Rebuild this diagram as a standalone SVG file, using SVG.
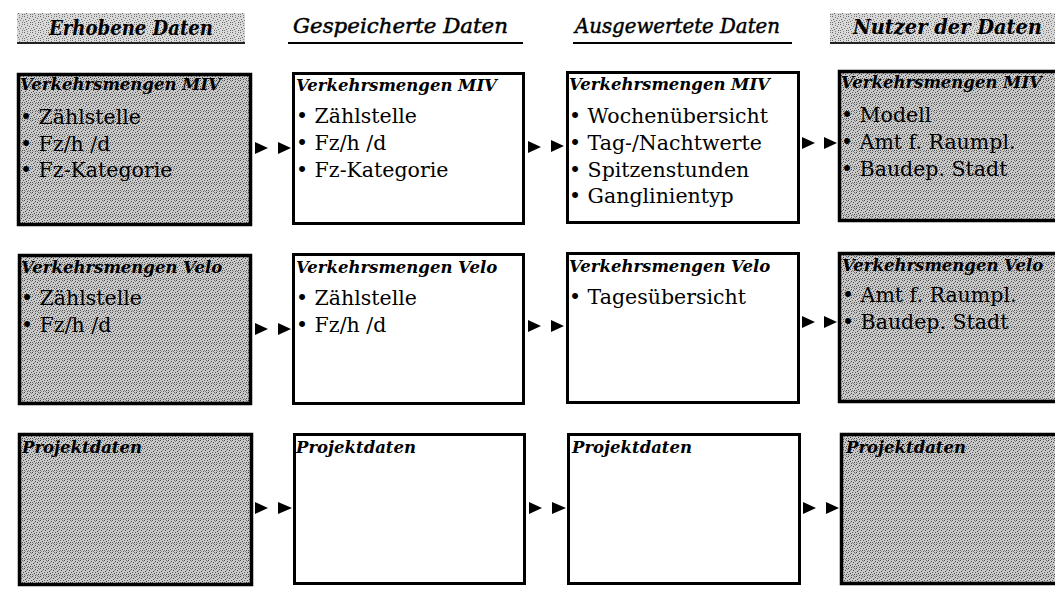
<svg xmlns="http://www.w3.org/2000/svg" width="1055" height="590" viewBox="0 0 1055 590">
<defs>
<pattern id="stipBox" width="8" height="8" patternUnits="userSpaceOnUse">
<rect width="8" height="8" fill="#cacaca"/>
<rect x="0" y="0" width="1" height="1" fill="#444"/>
<rect x="3" y="1" width="1" height="1" fill="#444"/>
<rect x="6" y="0" width="1" height="1" fill="#666"/>
<rect x="1" y="3" width="1" height="1" fill="#444"/>
<rect x="5" y="2" width="1" height="1" fill="#444"/>
<rect x="7" y="4" width="1" height="1" fill="#555"/>
<rect x="2" y="5" width="1" height="1" fill="#444"/>
<rect x="4" y="4" width="1" height="1" fill="#666"/>
<rect x="0" y="6" width="1" height="1" fill="#555"/>
<rect x="6" y="6" width="1" height="1" fill="#444"/>
<rect x="3" y="7" width="1" height="1" fill="#555"/>
<rect x="5" y="7" width="1" height="1" fill="#888"/>
<rect x="2" y="2" width="1" height="1" fill="#888"/>
<rect x="7" y="1" width="1" height="1" fill="#888"/>
<rect x="4" y="6" width="1" height="1" fill="#888"/>
<rect x="1" y="7" width="1" height="1" fill="#999"/>
</pattern>
<pattern id="stipHead" width="8" height="8" patternUnits="userSpaceOnUse">
<rect width="8" height="8" fill="#d9d9d9"/>
<rect x="0" y="0" width="1" height="1" fill="#666"/>
<rect x="3" y="1" width="1" height="1" fill="#777"/>
<rect x="6" y="0" width="1" height="1" fill="#888"/>
<rect x="1" y="3" width="1" height="1" fill="#666"/>
<rect x="5" y="2" width="1" height="1" fill="#777"/>
<rect x="7" y="4" width="1" height="1" fill="#888"/>
<rect x="2" y="5" width="1" height="1" fill="#666"/>
<rect x="4" y="4" width="1" height="1" fill="#888"/>
<rect x="0" y="6" width="1" height="1" fill="#777"/>
<rect x="6" y="6" width="1" height="1" fill="#666"/>
<rect x="3" y="7" width="1" height="1" fill="#888"/>
</pattern>
</defs>
<style>
.box{stroke:#000;stroke-width:3}
.white{fill:#fff}
.shade{fill:url(#stipBox);stroke-width:3.5}
.title{font-family:"DejaVu Serif",serif;font-weight:bold;font-style:italic;font-size:16.5px;fill:#000}
.item{font-family:"DejaVu Serif",serif;font-size:20.5px;fill:#000}
.hb{font-family:"DejaVu Serif",serif;font-weight:bold;font-style:italic;font-size:20px;fill:#000}
.hi{font-family:"DejaVu Serif",serif;font-style:italic;font-size:21px;fill:#000;stroke:#000;stroke-width:0.5}
.arr{fill:#000}
</style>
<rect width="1055" height="590" fill="#fff"/>

<g id="header-erhoben">
<rect x="17" y="13" width="228" height="30" fill="url(#stipHead)"/>
<rect x="17" y="42" width="228" height="2" fill="#222"/>
<text class="hb" x="49" y="35" textLength="164" lengthAdjust="spacingAndGlyphs">Erhobene Daten</text>
</g>
<g id="header-gespeichert">
<rect x="288" y="42" width="235" height="2" fill="#000"/>
<text class="hi" x="293" y="33" textLength="215" lengthAdjust="spacingAndGlyphs">Gespeicherte Daten</text>
</g>
<g id="header-ausgewertet">
<rect x="573" y="42" width="219" height="2" fill="#000"/>
<text class="hi" x="575" y="33" textLength="205" lengthAdjust="spacingAndGlyphs">Ausgewertete Daten</text>
</g>
<g id="header-nutzer">
<rect x="830" y="13" width="230" height="30" fill="url(#stipHead)"/>
<rect x="830" y="42" width="230" height="2" fill="#222"/>
<text class="hb" x="853" y="34" textLength="189" lengthAdjust="spacingAndGlyphs">Nutzer der Daten</text>
</g>

<g id="n11">
<rect class="box shade" x="18.5" y="74.5" width="232" height="150"/>
<text class="title" x="20" y="90">Verkehrsmengen MIV</text>
<text class="item" x="20" y="124">• Zählstelle</text>
<text class="item" x="20" y="151">• Fz/h /d</text>
<text class="item" x="20" y="177">• Fz-Kategorie</text>
</g>
<g id="n12">
<rect class="box white" x="293.5" y="73.5" width="230" height="150"/>
<text class="title" x="296" y="91">Verkehrsmengen MIV</text>
<text class="item" x="296" y="123">• Zählstelle</text>
<text class="item" x="296" y="150">• Fz/h /d</text>
<text class="item" x="296" y="177">• Fz-Kategorie</text>
</g>
<g id="n13">
<rect class="box white" x="567.5" y="72.5" width="231" height="150"/>
<text class="title" x="569" y="90">Verkehrsmengen MIV</text>
<text class="item" x="569" y="123">• Wochenübersicht</text>
<text class="item" x="569" y="150">• Tag-/Nachtwerte</text>
<text class="item" x="569" y="177">• Spitzenstunden</text>
<text class="item" x="569" y="203">• Ganglinientyp</text>
</g>
<g id="n14">
<rect class="box shade" x="839.5" y="71.5" width="222" height="149"/>
<text class="title" x="841" y="88">Verkehrsmengen MIV</text>
<text class="item" x="841" y="122">• Modell</text>
<text class="item" x="841" y="149">• Amt f. Raumpl.</text>
<text class="item" x="841" y="176">• Baudep. Stadt</text>
</g>

<g id="n21">
<rect class="box shade" x="19.5" y="255.5" width="231" height="148"/>
<text class="title" x="21" y="273">Verkehrsmengen Velo</text>
<text class="item" x="21" y="305">• Zählstelle</text>
<text class="item" x="21" y="332">• Fz/h /d</text>
</g>
<g id="n22">
<rect class="box white" x="293.5" y="254.5" width="230" height="149"/>
<text class="title" x="296" y="273">Verkehrsmengen Velo</text>
<text class="item" x="296" y="305">• Zählstelle</text>
<text class="item" x="296" y="332">• Fz/h /d</text>
</g>
<g id="n23">
<rect class="box white" x="567.5" y="253.5" width="231" height="149"/>
<text class="title" x="569" y="272">Verkehrsmengen Velo</text>
<text class="item" x="569" y="304">• Tagesübersicht</text>
</g>
<g id="n24">
<rect class="box shade" x="839.5" y="253.5" width="222" height="148"/>
<text class="title" x="842" y="271">Verkehrsmengen Velo</text>
<text class="item" x="842" y="302">• Amt f. Raumpl.</text>
<text class="item" x="842" y="329">• Baudep. Stadt</text>
</g>

<g id="n31">
<rect class="box shade" x="19.5" y="434.5" width="232" height="150"/>
<text class="title" x="22" y="453">Projektdaten</text>
</g>
<g id="n32">
<rect class="box white" x="294.5" y="434.5" width="230" height="149"/>
<text class="title" x="296" y="453">Projektdaten</text>
</g>
<g id="n33">
<rect class="box white" x="568.5" y="434.5" width="231" height="149"/>
<text class="title" x="572" y="453">Projektdaten</text>
</g>
<g id="n34">
<rect class="box shade" x="841.5" y="434.5" width="222" height="149"/>
<text class="title" x="846" y="453">Projektdaten</text>
</g>

<g id="connectors" class="arr">
<path d="M255,142 L268,148 L255,154 Z M278,142 L291,148 L278,154 Z"/>
<path d="M528,141 L541,147 L528,153 Z M551,140 L564,146 L551,152 Z"/>
<path d="M802,137 L815,143 L802,149 Z M824,137 L837,143 L824,149 Z"/>
<path d="M255,323 L268,329 L255,335 Z M278,323 L291,329 L278,335 Z"/>
<path d="M528,320 L541,326 L528,332 Z M551,320 L564,326 L551,332 Z"/>
<path d="M802,316 L815,322 L802,328 Z M824,316 L837,322 L824,328 Z"/>
<path d="M255,502 L268,508 L255,514 Z M278,502 L292,508 L278,514 Z"/>
<path d="M529,502 L542,508 L529,514 Z M552,502 L566,508 L552,514 Z"/>
<path d="M803,502 L816,508 L803,514 Z M826,502 L839,508 L826,514 Z"/>
</g>
</svg>
